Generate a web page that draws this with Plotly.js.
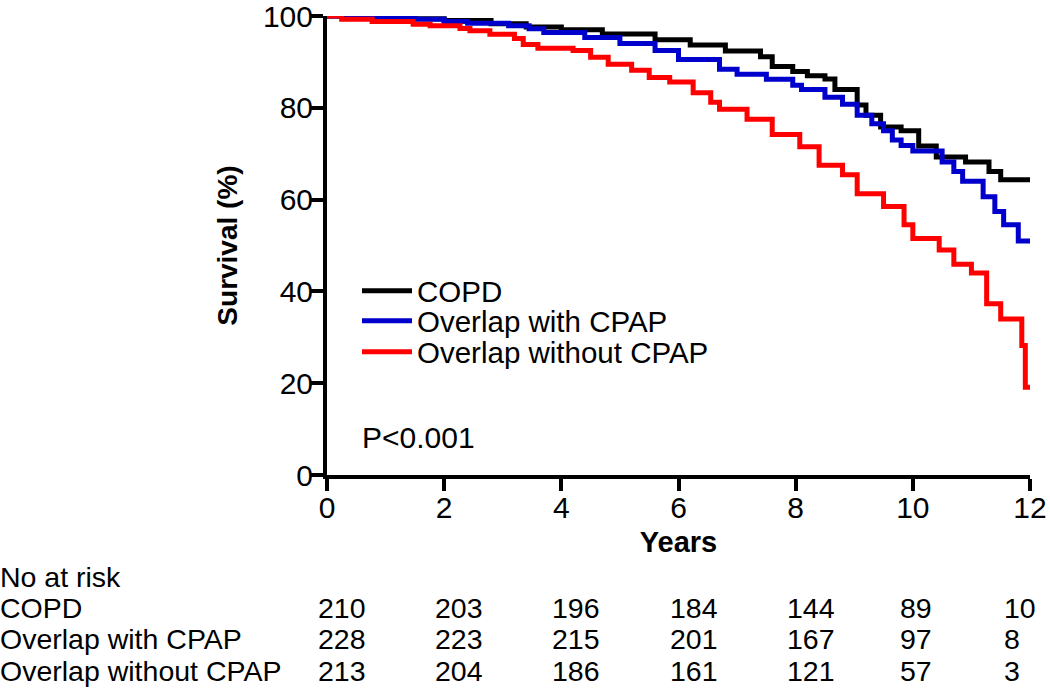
<!DOCTYPE html>
<html><head><meta charset="utf-8">
<script src="https://cdn.plot.ly/plotly-3.0.1.min.js"></script>
<style>html,body{margin:0;padding:0;background:#fff}</style>
</head><body><div id="chart" style="width:1050px;height:692px"></div>
<script>
// ---- data ----
const groupNames = ['COPD', 'Overlap with CPAP', 'Overlap without CPAP'];

const copdYears = [0,1.0,1.5,2.0,2.8,3.4,4.0,4.7,5.6,6.2,6.8,7.4,7.6,7.95,8.2,8.5,8.67,9.05,9.2,9.45,9.8,10.1,10.4,10.9,11.3,11.5,12];
const copdSurv  = [100,99.8,99.4,99.0,98.3,97.6,97.0,96.1,94.8,93.7,92.4,91.1,89.0,87.9,87.0,86.3,84.0,80.6,78.4,75.8,75.0,71.7,69.3,68.2,66.1,64.3,64.3];

const cpapYears = [0,0.5,1.5,2.0,2.4,3.1,3.45,3.7,4.4,5.0,5.6,6.0,6.7,7.0,7.5,7.95,8.1,8.5,8.8,9.05,9.3,9.5,9.65,9.8,10.0,10.5,10.7,10.85,11.2,11.4,11.55,11.8,12];
const cpapSurv  = [100,99.8,99.3,98.8,98.4,97.9,97.2,96.4,95.3,94.0,92.5,90.5,88.4,87.3,86.2,84.9,84.0,82.3,80.8,78.4,76.5,75.0,73.0,71.8,70.6,68.2,66.1,64.0,60.6,57.4,54.5,51.0,50.5];

const noCpapYears = [0,0.25,0.77,1.47,1.76,2.27,2.44,2.78,3.2,3.35,3.6,4.2,4.5,4.8,5.2,5.5,5.85,6.25,6.55,6.7,7.17,7.6,8.07,8.4,8.8,9.05,9.5,9.85,10.0,10.45,10.7,11.0,11.26,11.5,11.86,11.92,12];
const noCpapSurv  = [100,99.3,98.8,98.2,97.9,97.3,96.8,96.0,95.1,93.8,93.0,92.5,91.0,89.5,88.2,86.6,85.6,83.3,81.2,79.7,77.5,74.2,71.5,67.5,65.4,61.3,58.5,54.5,51.5,49.0,45.9,44.0,37.3,34.0,28.2,19.1,19.1];

const xTicks = [0,2,4,6,8,10,12];
const yTicks = [0,20,40,60,80,100];

const riskTimes  = [0,2,4,6,8,10,12];
const riskCOPD   = [210,203,196,184,144,89,10];
const riskCPAP   = [228,223,215,201,167,97,8];
const riskNoCPAP = [213,204,186,161,121,57,3];
const riskHeader = 'No at risk';
const pText = 'P<0.001';

// ---- drawing ----
const W = 1050, H = 692;
const M = {l: 327, r: 20, t: 16, b: 217};
const plotH = H - M.t - M.b, plotW = W - M.l - M.r;
const pyToPaper = py => (H - M.b - py) / plotH;
const pxToPaper = px => (px - M.l) / plotW;

const FONT = 'Liberation Sans, Arial, Helvetica, sans-serif';
const colors = ['#000000', '#0000cc', '#ff0000'];
const series = [[copdYears, copdSurv], [cpapYears, cpapSurv], [noCpapYears, noCpapSurv]];
const legendIds = ['legend', 'legend2', 'legend3'];

const traces = series.map((s, i) => ({
  type: 'scatter', mode: 'lines', x: s[0], y: s[1], name: groupNames[i],
  line: {color: colors[i], width: 5, shape: 'hv'},
  cliponaxis: false, legend: legendIds[i], hoverinfo: 'skip'
}));

const legendY = [291, 321, 352];
const legendCommon = {
  font: {family: FONT, size: 29.5, color: '#000'},
  bgcolor: 'rgba(0,0,0,0)', borderwidth: 0, xanchor: 'left', yanchor: 'middle',
  itemwidth: 50
};

const annotations = [];
annotations.push({xref: 'paper', yref: 'paper', x: pxToPaper(360), y: pyToPaper(437),
  xanchor: 'left', yanchor: 'middle', text: pText, showarrow: false,
  font: {family: FONT, size: 30, color: '#000'}});

const rowLabelY = [577, 608, 639, 671];
const rowLabels = [riskHeader].concat(groupNames);
rowLabels.forEach((t, i) => annotations.push({xref: 'paper', yref: 'paper',
  x: pxToPaper(-2), y: pyToPaper(rowLabelY[i]), xanchor: 'left', yanchor: 'middle',
  text: t, showarrow: false, font: {family: FONT, size: 28.5, color: '#000'}}));

[riskCOPD, riskCPAP, riskNoCPAP].forEach((row, r) => {
  row.forEach((v, j) => {
    const t = riskTimes[j];
    const shift = t === 12 ? -28 : (t === 10 ? -15 : -11);
    annotations.push({xref: 'x', yref: 'paper', x: t, y: pyToPaper(rowLabelY[r + 1]),
      xanchor: 'left', yanchor: 'middle', xshift: shift, text: String(v), showarrow: false,
      font: {family: FONT, size: 28.5, color: '#000'}});
  });
});

const layout = {
  width: W, height: H, margin: M,
  paper_bgcolor: '#fff', plot_bgcolor: '#fff',
  font: {family: FONT, color: '#000'},
  showlegend: true,
  xaxis: {range: [0, 12], tickvals: xTicks, ticktext: xTicks.map(String),
    showgrid: false, zeroline: false, showline: true, linewidth: 4, linecolor: '#000',
    ticks: 'outside', ticklen: 12, tickwidth: 4, tickcolor: '#000',
    ticklabelstandoff: -9, ticklabeloverflow: 'allow',
    tickfont: {family: FONT, size: 30, color: '#000'},
    title: {text: '<b>Years</b>', font: {family: FONT, size: 29, color: '#000'}, standoff: 10}},
  yaxis: {range: [0, 100], tickvals: yTicks, ticktext: yTicks.map(String),
    showgrid: false, zeroline: false, showline: true, linewidth: 4, linecolor: '#000',
    ticks: 'outside', ticklen: 12, tickwidth: 4, tickcolor: '#000',
    ticklabelstandoff: -8, ticklabeloverflow: 'allow',
    tickfont: {family: FONT, size: 30, color: '#000'},
    title: {text: '<b>Survival (%)</b>', font: {family: FONT, size: 28, color: '#000'}, standoff: 18}},
  annotations: annotations
};
legendIds.forEach((id, i) => {
  layout[id] = Object.assign({}, legendCommon, {x: pxToPaper(357), y: pyToPaper(legendY[i])});
});

Plotly.newPlot('chart', traces, layout, {displayModeBar: false, staticPlot: true});
</script></body></html>
